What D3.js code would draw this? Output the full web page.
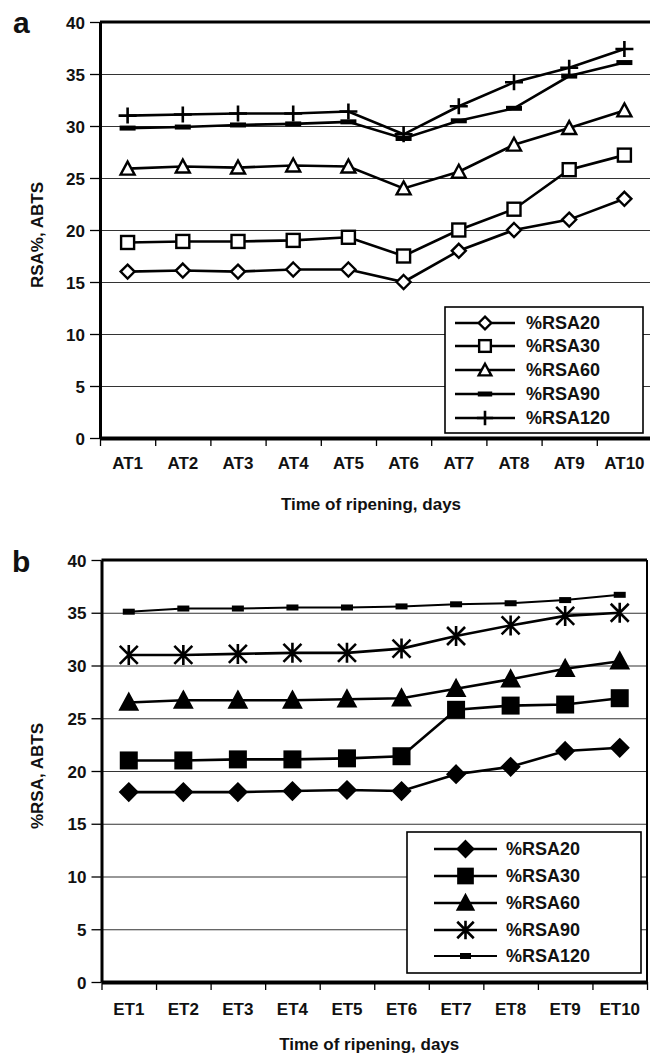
<!DOCTYPE html>
<html>
<head>
<meta charset="utf-8">
<script src="https://cdn.jsdelivr.net/npm/d3@7"></script>
<style>
  body { margin: 0; background: #fff; }
  svg text { font-family: "Liberation Sans", Arial, sans-serif; font-weight: bold; fill: #111; }
</style>
</head>
<body>
<div id="plot"></div>
<script>
// data
var categoriesA = ["AT1", "AT2", "AT3", "AT4", "AT5", "AT6", "AT7", "AT8", "AT9", "AT10"];
var categoriesB = ["ET1", "ET2", "ET3", "ET4", "ET5", "ET6", "ET7", "ET8", "ET9", "ET10"];
var seriesNames = ["%RSA20", "%RSA30", "%RSA60", "%RSA90", "%RSA120"];
var yTicks = [0, 5, 10, 15, 20, 25, 30, 35, 40];

// panel a
var rsa20A = [16.0, 16.1, 16.0, 16.2, 16.2, 15.0, 18.0, 20.0, 21.0, 23.0];
var rsa30A = [18.8, 18.9, 18.9, 19.0, 19.3, 17.5, 20.0, 22.0, 25.8, 27.2];
var rsa60A = [25.9, 26.1, 26.0, 26.2, 26.1, 24.0, 25.6, 28.2, 29.8, 31.5];
var rsa90A = [29.8, 29.9, 30.1, 30.2, 30.4, 28.8, 30.5, 31.7, 34.8, 36.1];
var rsa120A = [31.0, 31.1, 31.2, 31.2, 31.4, 29.2, 31.9, 34.2, 35.6, 37.4];

// panel b
var rsa20B = [18.0, 18.0, 18.0, 18.1, 18.2, 18.1, 19.7, 20.4, 21.9, 22.2];
var rsa30B = [21.0, 21.0, 21.1, 21.1, 21.2, 21.4, 25.8, 26.2, 26.3, 26.9];
var rsa60B = [26.5, 26.7, 26.7, 26.7, 26.8, 26.9, 27.8, 28.7, 29.7, 30.4];
var rsa90B = [31.0, 31.0, 31.1, 31.2, 31.2, 31.6, 32.8, 33.8, 34.7, 35.0];
var rsa120B = [35.1, 35.4, 35.4, 35.5, 35.5, 35.6, 35.8, 35.9, 36.2, 36.7];

var svg = d3.select("#plot")
  .append("svg")
  .attr("width", 650)
  .attr("height", 1053);

// marker drawing, one function per symbol
function drawMarker(g, type, x, y, s) {
  var k = s || 1;
  if (type === "diamondOpen" || type === "diamondFill") {
    var r = 7 * k;
    g.append("path")
      .attr("d", `M${x},${y - r}L${x + r},${y}L${x},${y + r}L${x - r},${y}Z`)
      .attr("fill", type === "diamondFill" ? "#000" : "#fff")
      .attr("stroke", "#000").attr("stroke-width", 2.4);
  } else if (type === "squareOpen" || type === "squareFill") {
    var h = 6.5 * k;
    g.append("rect")
      .attr("x", x - h).attr("y", y - h).attr("width", 2 * h).attr("height", 2 * h)
      .attr("fill", type === "squareFill" ? "#000" : "#fff")
      .attr("stroke", "#000").attr("stroke-width", 2.4);
  } else if (type === "triOpen" || type === "triFill") {
    var w = 7 * k;
    g.append("path")
      .attr("d", `M${x},${y - w}L${x + w},${y + w * 0.85}L${x - w},${y + w * 0.85}Z`)
      .attr("fill", type === "triFill" ? "#000" : "#fff")
      .attr("stroke", "#000").attr("stroke-width", 2.4)
      .attr("stroke-linejoin", "miter");
  } else if (type === "dash") {
    g.append("rect")
      .attr("x", x - 8 * k).attr("y", y - 2.5).attr("width", 16 * k).attr("height", 5)
      .attr("fill", "#000");
  } else if (type === "plus") {
    g.append("path")
      .attr("d", `M${x - 9 * k},${y}H${x + 9 * k}M${x},${y - 8 * k}V${y + 8 * k}`)
      .attr("stroke", "#000").attr("stroke-width", 2.6);
  } else if (type === "star") {
    var a = 7.5 * k;
    g.append("path")
      .attr("d", `M${x - a},${y - a}L${x + a},${y + a}M${x - a},${y + a}L${x + a},${y - a}M${x},${y - a - 1}V${y + a + 1}`)
      .attr("stroke", "#000").attr("stroke-width", 2.6);
  } else if (type === "smallSquare") {
    g.append("rect")
      .attr("x", x - 5 * k).attr("y", y - 3).attr("width", 10 * k).attr("height", 6)
      .attr("fill", "#000");
  }
}

function drawPanel(p) {
  var g = svg.append("g");

  var xScale = d3.scaleBand()
    .domain(p.categories)
    .range([p.left, p.right]);

  var xEdges = d3.scaleLinear()
    .domain([0, p.categories.length])
    .range([p.left, p.right]);

  var yScale = d3.scaleLinear()
    .domain([0, 40])
    .range([p.bottom, p.top]);

  // gridlines
  g.append("g")
    .attr("transform", `translate(${p.left},0)`)
    .call(d3.axisLeft(yScale).tickValues(yTicks.slice(1, -1)).tickSize(-(p.right - p.left)).tickFormat(""))
    .call(a => a.select(".domain").remove())
    .selectAll("line").attr("stroke", "#333").attr("stroke-width", 1.2);

  // y axis
  var yAxis = g.append("g")
    .attr("transform", `translate(${p.left},0)`)
    .call(d3.axisLeft(yScale).tickValues(yTicks).tickSize(10).tickPadding(5).tickSizeOuter(0));
  yAxis.select(".domain").attr("stroke", "#000").attr("stroke-width", 3);
  yAxis.selectAll("line").attr("stroke", "#000").attr("stroke-width", 1.3);
  yAxis.selectAll("text").attr("font-size", "17px").attr("dy", "0.36em");

  // top border
  g.append("line")
    .attr("x1", p.left).attr("x2", p.right)
    .attr("y1", yScale(40)).attr("y2", yScale(40))
    .attr("stroke", "#000").attr("stroke-width", 3);

  if (p.rightBorder) {
    g.append("line")
      .attr("x1", p.right).attr("x2", p.right)
      .attr("y1", yScale(40)).attr("y2", yScale(0))
      .attr("stroke", "#000").attr("stroke-width", 2);
  }

  // x axis: ticks at category edges, labels at centres
  var xAxis = g.append("g")
    .attr("transform", `translate(0,${p.bottom})`)
    .call(d3.axisBottom(xEdges).tickValues(d3.range(p.categories.length + 1)).tickSize(8).tickFormat("").tickSizeOuter(0));
  xAxis.select(".domain").attr("stroke", "#000").attr("stroke-width", 4);
  xAxis.selectAll("line").attr("stroke", "#000").attr("stroke-width", 1.3);

  var xLabels = g.append("g")
    .attr("transform", `translate(0,${p.bottom + p.labelGap})`)
    .call(d3.axisBottom(xScale).tickSize(0).tickPadding(0));
  xLabels.select(".domain").remove();
  xLabels.selectAll("text").attr("font-size", "17px").attr("dy", "0");

  // series lines and markers
  p.series.forEach(function(s, i) {
    var line = d3.line()
      .x((d, j) => xScale(p.categories[j]) + xScale.bandwidth() / 2)
      .y(d => yScale(d));

    g.append("path")
      .datum(s)
      .attr("d", line)
      .attr("fill", "none")
      .attr("stroke", "#000")
      .attr("stroke-width", p.lineWidths[i]);

    var mg = g.append("g");
    s.forEach(function(v, j) {
      drawMarker(mg, p.markers[i], xScale(p.categories[j]) + xScale.bandwidth() / 2, yScale(v), p.markerScale);
    });
  });

  // axis titles and panel letter
  g.append("text")
    .attr("x", (p.left + p.right) / 2 - 5)
    .attr("y", p.titleY)
    .attr("text-anchor", "middle")
    .attr("font-size", "17px")
    .text("Time of ripening, days");

  g.append("text")
    .attr("transform", `translate(${p.yTitleX},${p.yTitleY}) rotate(-90)`)
    .attr("text-anchor", "middle")
    .attr("font-size", "17px")
    .text(p.yTitle);

  g.append("text")
    .attr("x", p.letterX)
    .attr("y", p.letterY)
    .attr("font-size", "30px")
    .text(p.letter);

  // legend
  var lg = g.append("g");
  lg.append("rect")
    .attr("x", p.legend.x).attr("y", p.legend.y)
    .attr("width", p.legend.w).attr("height", p.legend.h)
    .attr("fill", "#fff")
    .attr("stroke", "#000").attr("stroke-width", 1.6);

  seriesNames.forEach(function(name, i) {
    var cy = p.legend.rows[i];
    lg.append("line")
      .attr("x1", p.legend.lineX[0]).attr("x2", p.legend.lineX[1])
      .attr("y1", cy).attr("y2", cy)
      .attr("stroke", "#000").attr("stroke-width", p.lineWidths[i]);
    drawMarker(lg, p.markers[i], (p.legend.lineX[0] + p.legend.lineX[1]) / 2, cy, p.legendMarkerScale);
    lg.append("text")
      .attr("x", p.legend.textX)
      .attr("y", cy)
      .attr("dy", "0.36em")
      .attr("font-size", "18px")
      .text(name);
  });
}

drawPanel({
  letter: "a",
  letterX: 13, letterY: 33,
  categories: categoriesA,
  series: [rsa20A, rsa30A, rsa60A, rsa90A, rsa120A],
  markers: ["diamondOpen", "squareOpen", "triOpen", "dash", "plus"],
  lineWidths: [2.6, 2.6, 2.6, 2.6, 2.6],
  markerScale: 1,
  legendMarkerScale: 0.9,
  left: 100, right: 652, top: 22, bottom: 438,
  rightBorder: false,
  labelGap: 31,
  titleY: 510,
  yTitle: "RSA%, ABTS",
  yTitleX: 43, yTitleY: 235,
  legend: {
    x: 445, y: 307, w: 198, h: 126,
    rows: [323, 346, 370, 394, 418],
    lineX: [455, 515], textX: 526
  }
});

drawPanel({
  letter: "b",
  letterX: 12, letterY: 572,
  categories: categoriesB,
  series: [rsa20B, rsa30B, rsa60B, rsa90B, rsa120B],
  markers: ["diamondFill", "squareFill", "triFill", "star", "smallSquare"],
  lineWidths: [2.6, 2.6, 2.6, 2.6, 2.0],
  markerScale: 1.2,
  legendMarkerScale: 1.1,
  left: 101.5, right: 647, top: 560, bottom: 982,
  rightBorder: true,
  labelGap: 33,
  titleY: 1050,
  yTitle: "%RSA, ABTS",
  yTitleX: 43, yTitleY: 776,
  legend: {
    x: 407, y: 832, w: 234, h: 141,
    rows: [849, 876, 903, 930, 956],
    lineX: [434, 497], textX: 506
  }
});
</script>
</body>
</html>
